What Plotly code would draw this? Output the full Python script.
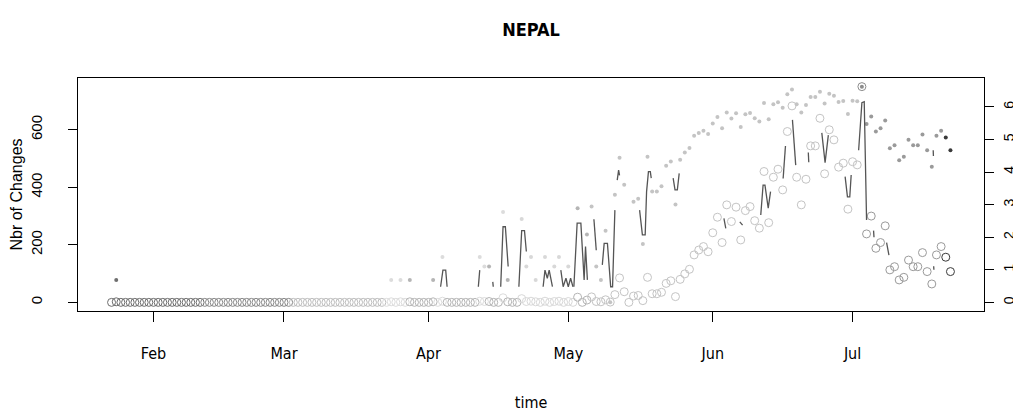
import pandas as pd
import plotly.graph_objects as go

# ---------------- data ----------------
start_date = "2015-01-23"

# daily number of changes (left axis), day 0 = start_date
changes = [
    0, 2, 0, 0, 0, 0, 0, 0, 0, 0,
    0, 0, 0, 0, 0, 0, 0, 0, 0, 0,
    0, 0, 0, 0, 0, 0, 0, 0, 0, 0,
    0, 0, 0, 0, 0, 0, 0, 0, 0, 0,
    0, 0, 0, 0, 0, 0, 0, 0, 0, 0,
    0, 0, 0, 0, 0, 0, 0, 0, 0, 0,
    2, 0, 2, 0, 2, 0, 0, 0, 0, 2,
    0, 4, 0, 0, 0, 0, 0, 0, 0, 4,
    3, 3, 0, 0, 16, 2, 0, 0, 13, 3,
    4, 2, 0, 4, 0, 3, 4, 0, 3, 0,
    18, 0, 8, 19, 3, 2, 9, 1, 27, 85,
    37, 0, 22, 24, 6, 87, 30, 30, 35, 66,
    75, 20, 80, 99, 115, 165, 182, 194, 176, 242,
    296, 208, 339, 281, 331, 217, 319, 333, 284, 258,
    455, 277, 435, 463, 391, 594, 683, 435, 339, 428,
    544, 544, 640, 447, 600, 565, 470, 484, 324, 489,
    478, 750, 238, 300, 188, 208, 266, 113, 124, 78,
    87, 147, 124, 124, 173, 107, 64, 165, 194, 157,
    107,
]

# small filled markers (right axis): day index and value
dot_days = [1, 60, 62, 64, 69, 71, 79, 80, 81, 84, 85, 88, 89, 90, 91, 93, 95, 96, 98,
            100, 102, 103, 104, 105, 106, 107, 108, 109, 110] + list(range(112, 181))
dot_vals = [0.69, 0.69, 0.69, 0.69, 0.69, 1.39, 1.39, 1.10, 1.10, 2.77, 0.69, 2.56, 1.10,
            1.39, 0.69, 1.39, 1.10, 1.39, 1.10, 2.89, 2.08, 2.94, 1.10, 0.69, 2.20, 0.00,
            3.30, 4.44, 3.61,
            3.09, 3.18, 1.79, 4.47, 3.40, 3.40, 3.56, 4.19, 4.32, 3.00,
            4.38, 4.60, 4.74, 5.11, 5.20, 5.27, 5.17, 5.49, 5.69, 5.34,
            5.83, 5.64, 5.80, 5.38, 5.77, 5.81, 5.65, 5.55, 6.12, 5.62,
            6.08, 6.14, 5.97, 6.39, 6.53, 6.08, 5.83, 6.06, 6.30, 6.30,
            6.46, 6.10, 6.40, 6.34, 6.15, 6.18, 5.78, 6.19, 6.17, 6.62,
            5.47, 5.70, 5.24, 5.34, 5.58, 4.73, 4.82, 4.36, 4.47, 4.99,
            4.82, 4.82, 5.15, 4.67, 4.16, 5.11, 5.27, 5.06, 4.67]

# broken dark line (right axis): fractional day, value; None = gap
line_days = [70.6, 71.1, 71.7, 72.0, None,
             78.7, 79.0, None,
             81.8, 81.9, None,
             83.5, 84.0, 84.5, 85.1, None,
             87.4, 88.0, 88.6, 89.0, None,
             92.6, 93.0, 93.5, 93.9, 94.6, None,
             96.4, 96.9, 97.5, 98.0, 98.5, 99.0, None,
             99.2, 99.9, 100.7, 101.4, 101.7, 102.1, None,
             103.5, 104.0, None,
             105.3, 105.7, 106.4, 107.1, 107.5, 108.0, None,
             108.5, 108.8, 109.0, None,
             113.3, 113.9, 114.5, 114.8, 115.2, 115.6, 115.8, None,
             120.5, 120.9, 121.4, 121.8, None,
             131.4, 131.8, None,
             134.8, 135.4, None,
             139.3, 139.8, 140.2, 140.9, 141.4, None,
             144.1, 144.6, None,
             146.1, 146.8, None,
             149.5, 149.6, None,
             152.4, 153.1, 153.8, None,
             157.4, 157.9, 158.4, 158.7, None,
             160.3, 161.0, 161.5, 161.6, 162.0, None,
             163.5, 163.6, None,
             166.3, 166.8, None,
             176.3, 176.35, None,
             176.4, 176.45]
line_vals = [0.48, 0.99, 0.99, 0.48, None,
             0.48, 0.99, None,
             0.63, 0.48, None,
             0.48, 2.32, 2.32, 1.10, None,
             0.48, 2.20, 2.20, 1.56, None,
             0.48, 0.99, 0.74, 0.99, 0.48, None,
             0.99, 0.48, 0.74, 0.48, 0.74, 0.48, None,
             0.48, 2.43, 2.43, 0.69, 1.71, 0.69, None,
             2.55, 1.60, None,
             1.15, 1.81, 1.81, 0.48, 0.48, 2.83, None,
             3.75, 4.06, 3.90, None,
             2.83, 2.07, 2.07, 3.40, 4.01, 4.01, 3.81, None,
             3.81, 3.45, 3.45, 3.96, None,
             2.58, 2.27, None,
             2.47, 2.37, None,
             2.68, 3.60, 3.60, 2.89, 3.40, None,
             3.80, 4.80, None,
             5.60, 4.21, None,
             4.60, 4.30, None,
             5.20, 4.29, 5.13, None,
             3.86, 3.24, 3.24, 3.91, None,
             4.67, 6.13, 6.16, 5.30, 2.53, None,
             2.20, 2.00, None,
             1.83, 1.45, None,
             4.67, 4.49, None,
             1.11, 1.00]

month_ticks = ["2015-02-01", "2015-03-01", "2015-04-01", "2015-05-01", "2015-06-01", "2015-07-01"]
month_labels = ["Feb", "Mar", "Apr", "May", "Jun", "Jul"]
left_ticks = [0, 200, 400, 600]
right_ticks = [0, 1, 2, 3, 4, 5, 6]

# ---------------- styling ----------------
color_bands = [(0, 19, "#6e6e6e"), (20, 38, "#888888"), (39, 58, "#bdbdbd"),
               (59, 63, "#dcdcdc"), (64, 69, "#b5b5b5"), (70, 71, "#dcdcdc"),
               (72, 78, "#b5b5b5"), (79, 80, "#dcdcdc"), (81, 83, "#b5b5b5"),
               (84, 84, "#dcdcdc"), (85, 87, "#b5b5b5"), (88, 99, "#d8d8d8"),
               (100, 102, "#b5b5b5"), (103, 160, "#c4c4c4"), (161, 161, "#8c8c8c"),
               (162, 178, "#9a9a9a"), (179, 180, "#3a3a3a")]


def day_color(d):
    for lo, hi, c in color_bands:
        if lo <= d <= hi:
            return c
    return "#c4c4c4"


t0 = pd.Timestamp(start_date)


def to_date(d):
    return None if d is None else t0 + pd.Timedelta(days=d)


days = list(range(len(changes)))
x_days = [to_date(d) for d in days]
x_dots = [to_date(d) for d in dot_days]
x_line = [to_date(d) for d in line_days]

n = len(changes) - 1
pad = 0.04 * n
x_range = [t0 - pd.Timedelta(days=pad), t0 + pd.Timedelta(days=n + pad)]
ymax = max(changes)
y_range = [-0.04 * ymax, ymax * 1.04]
rmax = max(dot_vals)
y2_range = [-0.04 * rmax, rmax * 1.04]

fig = go.Figure()
fig.add_trace(go.Scatter(
    x=x_days, y=changes, mode="markers", yaxis="y",
    marker=dict(symbol="circle-open", size=8,
                color=[day_color(d) for d in days],
                line=dict(width=1, color=[day_color(d) for d in days])),
    showlegend=False, hoverinfo="skip"))
fig.add_trace(go.Scatter(
    x=x_dots, y=dot_vals, mode="markers", yaxis="y2",
    marker=dict(symbol="circle", size=4, color=[day_color(d) for d in dot_days],
                line=dict(width=0)),
    showlegend=False, hoverinfo="skip"))
fig.add_trace(go.Scatter(
    x=x_line, y=line_vals, mode="lines", yaxis="y2", connectgaps=False,
    line=dict(color="#555555", width=1.3),
    showlegend=False, hoverinfo="skip"))

narrow = "DejaVu Sans Condensed, Liberation Sans Narrow, Liberation Sans, Arial, sans-serif"
normal = "Liberation Sans, Arial, Helvetica, sans-serif"

# the page body adds an 8px margin on every side; the figure is sized so the
# page does not overflow the 1021x420 window
fig.update_layout(
    width=1005, height=404,
    margin=dict(l=70, r=29, t=70, b=101, autoexpand=False),
    paper_bgcolor="white", plot_bgcolor="white",
    title=dict(text="<b>NEPAL</b>", x=0.5, xref="paper", y=1 - 22 / 404,
               yref="container", xanchor="center", yanchor="middle",
               font=dict(family=narrow, size=18, color="black")),
    xaxis=dict(type="date", range=x_range, tickvals=month_ticks, ticktext=month_labels,
               ticks="outside", ticklen=10, tickcolor="black", tickwidth=1,
               showline=True, mirror=True, linecolor="black", linewidth=1,
               showgrid=False, zeroline=False,
               tickfont=dict(family=narrow, size=16, color="black"),
               ticklabelstandoff=18,
               title=dict(text="time", standoff=38,
                          font=dict(family=narrow, size=16, color="black"))),
    yaxis=dict(range=y_range, tickvals=left_ticks, ticks="outside", ticklen=9,
               tickcolor="black", tickangle=-90,
               showline=True, mirror=True, linecolor="black", linewidth=1,
               showgrid=False, zeroline=False,
               tickfont=dict(family=normal, size=15, color="black"),
               ticklabelstandoff=20,
               title=dict(text="Nbr of Changes", standoff=18,
                          font=dict(family=normal, size=16, color="black"))),
    yaxis2=dict(range=y2_range, tickvals=right_ticks, overlaying="y", side="right",
                ticks="outside", ticklen=9, tickcolor="black", tickangle=-90,
                showline=False, showgrid=False, zeroline=False,
                tickfont=dict(family=normal, size=14, color="black"),
                ticklabelstandoff=3),
)

fig.write_html("out.html")
